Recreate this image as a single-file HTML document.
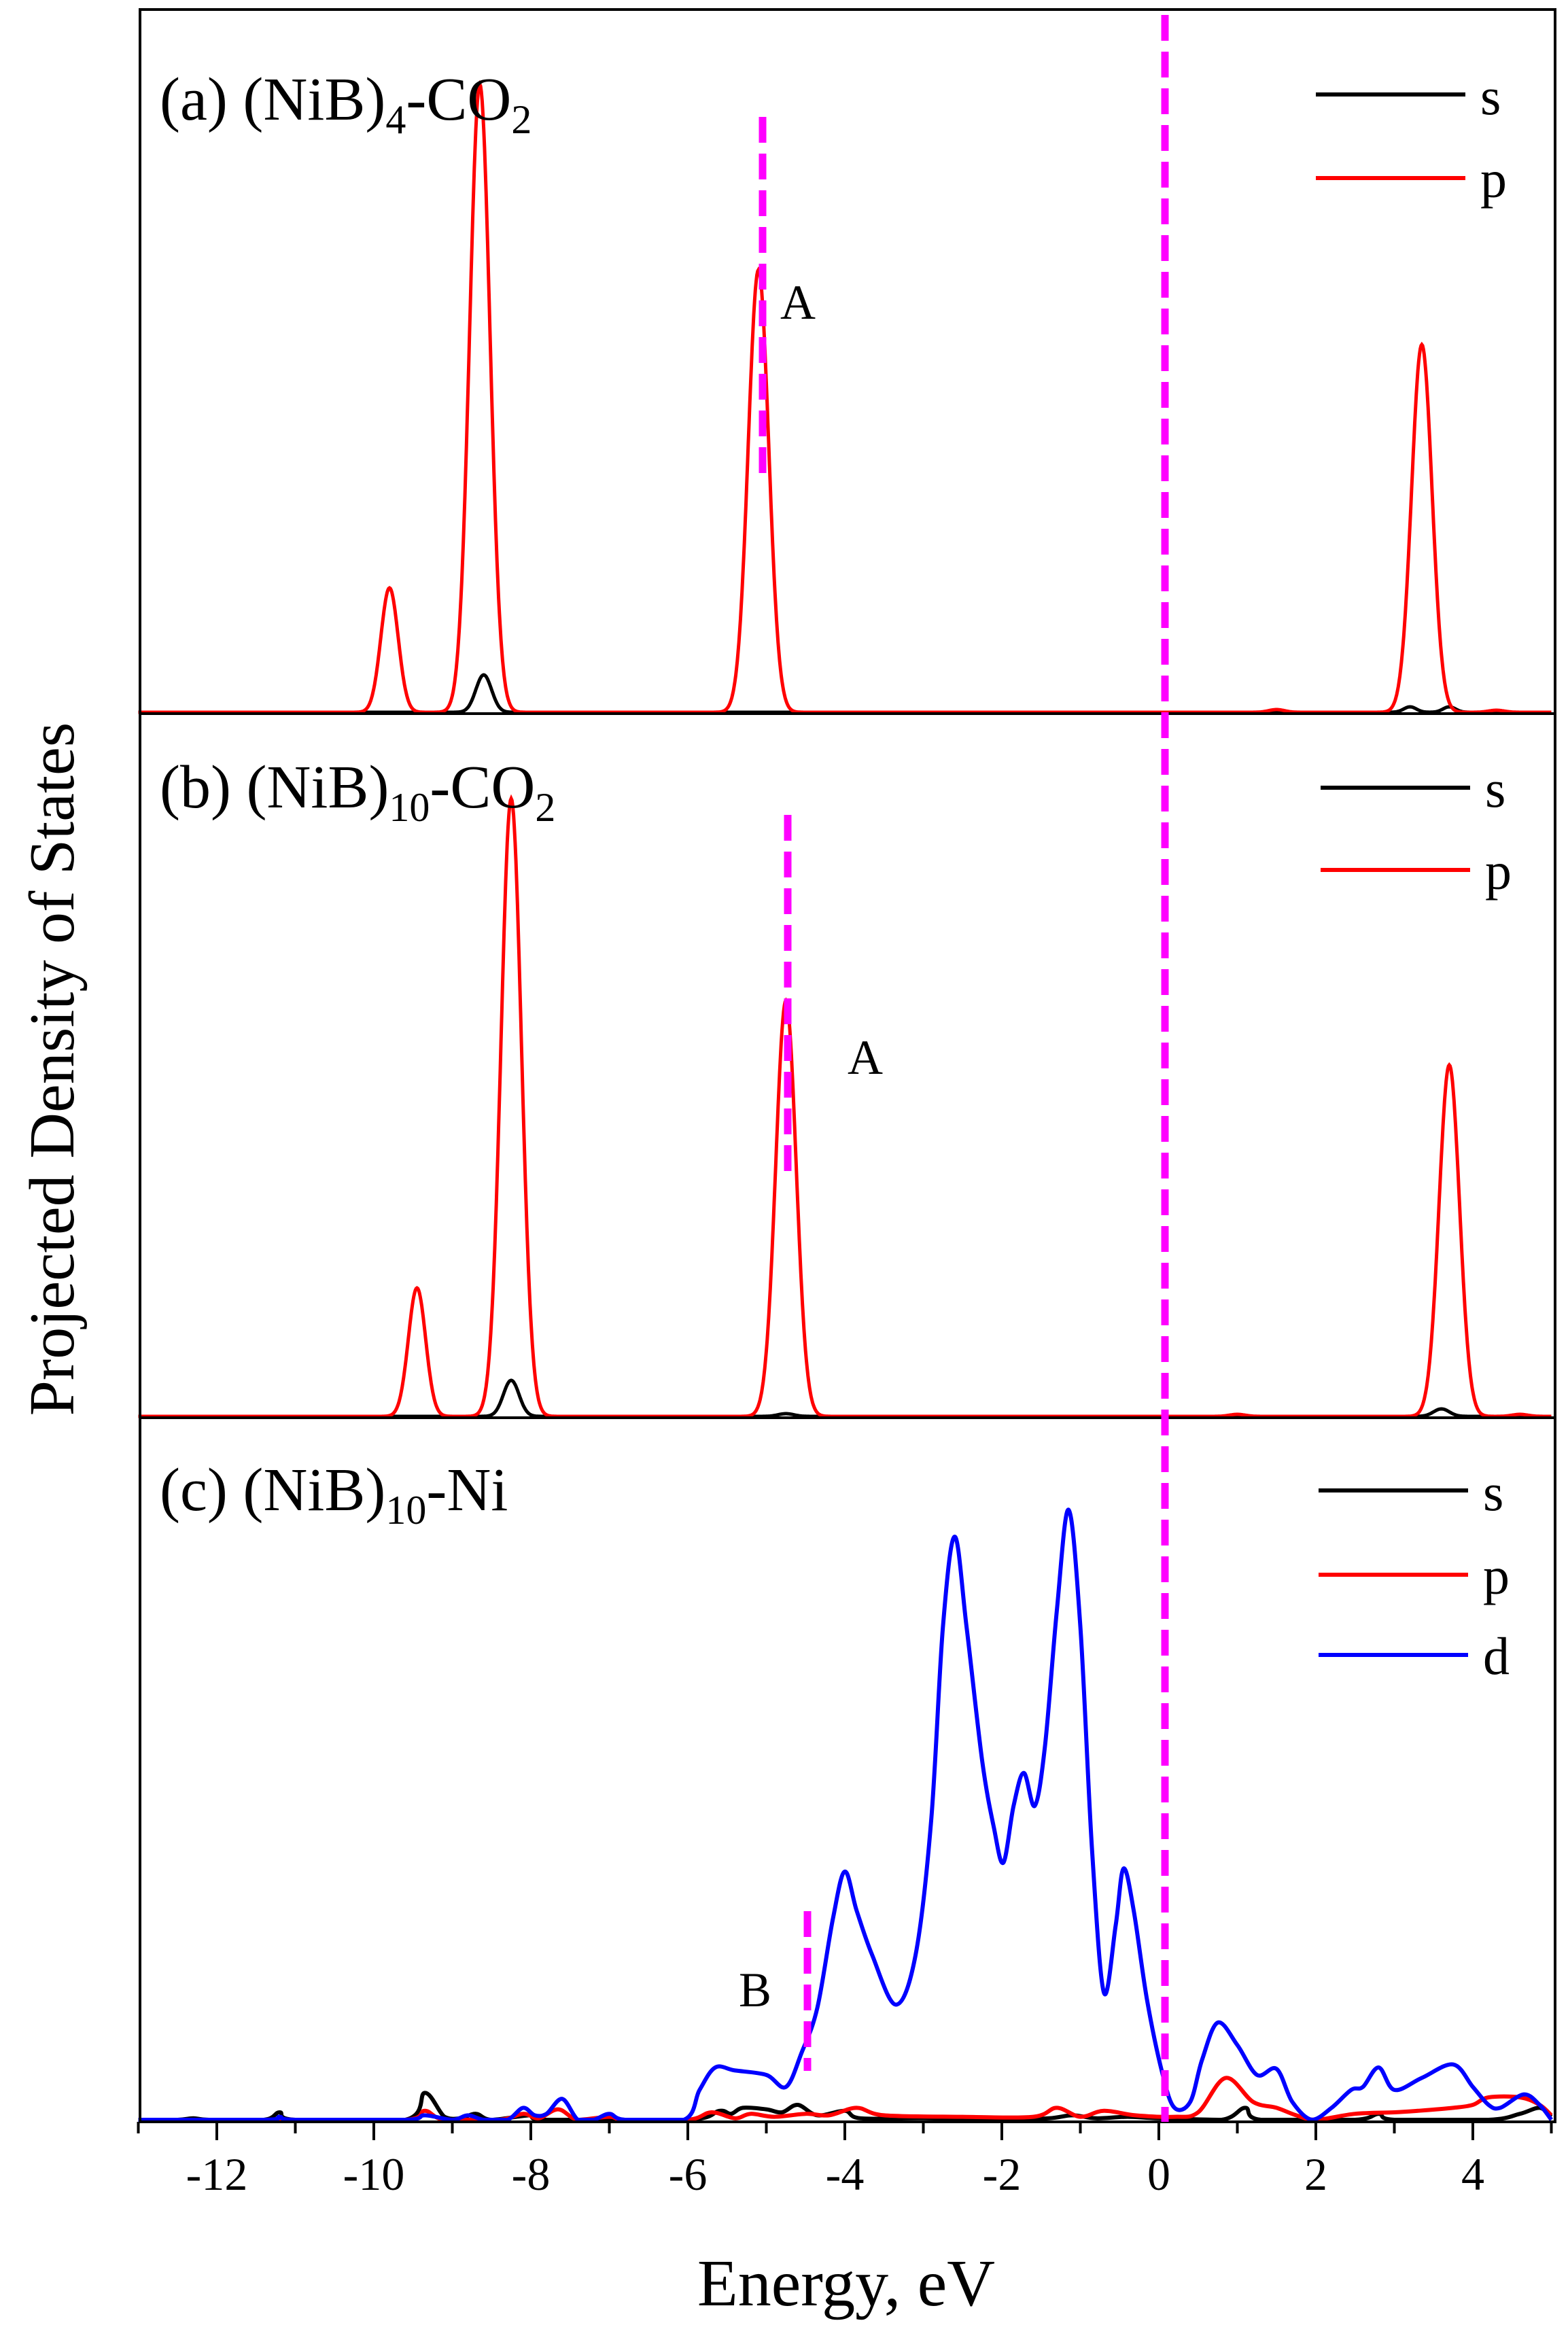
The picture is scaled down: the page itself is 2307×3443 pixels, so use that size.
<!DOCTYPE html>
<html><head><meta charset="utf-8"><style>
html,body{margin:0;padding:0;background:#fff;}
svg{display:block;}
text{font-family:"Liberation Serif",serif;fill:#000;}
</style></head><body>
<svg id="s" width="2307" height="3443" viewBox="0 0 2307 3443" xmlns="http://www.w3.org/2000/svg">
<rect width="2307" height="3443" fill="#fff"/>
<g id="curves"></g>
<g fill="none" stroke="#000" stroke-width="4">
<rect x="206" y="14" width="2082" height="1036"/>
<rect x="206" y="1050" width="2082" height="1036"/>
<rect x="206" y="2086" width="2082" height="1036"/>
</g>
<g id="ticks" stroke="#000" stroke-width="4"></g>
<g stroke="#ff00ff" stroke-width="11" stroke-dasharray="38,16" fill="none">
<line x1="1714" y1="22" x2="1714" y2="3122"/>
<line x1="1122" y1="172" x2="1122" y2="712"/>
<line x1="1159" y1="1199" x2="1159" y2="1738"/>
<line x1="1188" y1="2812" x2="1188" y2="3047"/>
</g>
<text x="235" y="176" font-size="90">(a) (NiB)<tspan font-size="60" dy="20">4</tspan><tspan dy="-20">-CO</tspan><tspan font-size="60" dy="20">2</tspan></text>
<text x="235" y="1188" font-size="90">(b) (NiB)<tspan font-size="60" dy="20">10</tspan><tspan dy="-20">-CO</tspan><tspan font-size="60" dy="20">2</tspan></text>
<text x="235" y="2222" font-size="90">(c) (NiB)<tspan font-size="60" dy="20">10</tspan><tspan dy="-20">-Ni</tspan></text>
<text x="1148" y="469" font-size="72">A</text>
<text x="1247" y="1580" font-size="72">A</text>
<text x="1087" y="2952" font-size="72">B</text>
<g stroke-width="6">
<line x1="1936" y1="139" x2="2156" y2="139" stroke="#000"/>
<line x1="1936" y1="262" x2="2156" y2="262" stroke="#f00"/>
<line x1="1943" y1="1159" x2="2163" y2="1159" stroke="#000"/>
<line x1="1943" y1="1280" x2="2163" y2="1280" stroke="#f00"/>
<line x1="1940" y1="2193" x2="2160" y2="2193" stroke="#000"/>
<line x1="1940" y1="2317" x2="2160" y2="2317" stroke="#f00"/>
<line x1="1940" y1="2435" x2="2160" y2="2435" stroke="#00f"/>
</g>
<g font-size="78">
<text x="2178" y="168">s</text><text x="2178" y="290">p</text>
<text x="2185" y="1187">s</text><text x="2185" y="1308">p</text>
<text x="2182" y="2222">s</text><text x="2182" y="2345">p</text><text x="2182" y="2463">d</text>
</g>
<g id="tl" font-size="68" text-anchor="middle"></g>
<text x="1245" y="3392" font-size="98" text-anchor="middle">Energy, eV</text>
<text transform="translate(108,1573) rotate(-90)" font-size="94" text-anchor="middle">Projected Density of States</text>
</svg>
<script>
var NS="http://www.w3.org/2000/svg";
function X(e){return 1705+115.5*e;}
function add(parent,tag,attrs){var el=document.createElementNS(NS,tag);for(var k in attrs)el.setAttribute(k,attrs[k]);document.getElementById(parent).appendChild(el);return el;}
for(var e=-13;e<=5;e++){var maj=(e%2===0);var x=X(e);
 add("ticks","line",{x1:x,y1:3122,x2:x,y2:3122+(maj?27:17)});
 if(maj){var t=add("tl","text",{x:x,y:3222});t.textContent=(e<0?"-":"")+Math.abs(e);}
}
function gaussPath(base,peaks){var d="";for(var e=-13;e<=5.0001;e+=0.01){var y=0;peaks.forEach(function(p){y+=p[1]*Math.exp(-Math.pow(e-p[0],2)/(2*p[2]*p[2]));});d+=(d?"L":"M")+X(e).toFixed(1)+","+(base-y).toFixed(1);}return d;}
add("curves","path",{d:gaussPath(1048,[[-8.6,55,0.1],[3.2,8,0.08],[3.7,8,0.08]]),stroke:"#000","stroke-width":5,fill:"none"});
add("curves","path",{d:gaussPath(1048,[[-9.8,183,0.11],[-8.65,924,0.13],[-5.1,651,0.13],[3.35,541,0.13],[1.5,4,0.1],[4.3,3,0.1]]),stroke:"#f00","stroke-width":5,fill:"none"});
add("curves","path",{d:gaussPath(2084,[[-8.25,53,0.1],[-4.75,4,0.1],[3.6,11,0.1]]),stroke:"#000","stroke-width":5,fill:"none"});
add("curves","path",{d:gaussPath(2084,[[-9.45,189,0.11],[-8.25,909,0.13],[-4.75,612,0.13],[3.7,517,0.13],[1.0,3,0.1],[4.6,3,0.1]]),stroke:"#f00","stroke-width":5,fill:"none"});
function cr(pts,base){var P=pts.map(function(p){return [X(p[0]),base-p[1]*2.2];});var d="M"+P[0][0]+","+P[0][1];
 for(var i=0;i<P.length-1;i++){var p0=P[Math.max(0,i-1)],p1=P[i],p2=P[i+1],p3=P[Math.min(P.length-1,i+2)];
 var c1=[p1[0]+(p2[0]-p0[0])/6,p1[1]+(p2[1]-p0[1])/6],c2=[p2[0]-(p3[0]-p1[0])/6,p2[1]-(p3[1]-p1[1])/6];
 c1[1]=Math.min(c1[1],base);c2[1]=Math.min(c2[1],base);
 d+="C"+c1[0].toFixed(1)+","+c1[1].toFixed(1)+" "+c2[0].toFixed(1)+","+c2[1].toFixed(1)+" "+p2[0].toFixed(1)+","+p2[1].toFixed(1);}return d;}
var B=3119;
var blk=[[-13,0],[-12.5,0],[-12.3,1],[-12.1,0],[-11.4,0],[-11.2,5],[-11,0],[-9.6,0],[-9.35,18],[-9.1,2],[-8.9,1],[-8.7,4],[-8.5,0],[-8.0,3],[-7.8,0],[-6,0],[-5.6,6],[-5.45,4],[-5.3,8],[-5.0,7],[-4.8,5],[-4.6,10],[-4.35,3],[-4.0,6],[-3.8,1],[-3,1],[-2,0],[-1.4,1],[-1.1,3],[-0.8,1],[-0.4,2],[0,1],[0.8,0],[1.1,8],[1.3,0],[2.5,0],[2.8,4],[3.0,0],[4.2,0],[4.6,4],[4.85,8],[5,2]];
var red=[[-13,0],[-11.4,0],[-11.2,1],[-11,0],[-9.6,0],[-9.35,6],[-9.1,0],[-8.4,0],[-8.1,4],[-7.9,1],[-7.65,7],[-7.4,0],[-7.0,2],[-6.8,0],[-6,0],[-5.7,5],[-5.4,1],[-5.2,4],[-4.9,2],[-4.5,4],[-4.2,3],[-3.85,8],[-3.5,3],[-2.5,2],[-1.6,2],[-1.3,8],[-1.0,2],[-0.7,6],[-0.3,3],[0.2,2],[0.5,5],[0.85,28],[1.2,12],[1.5,8],[1.75,3],[2,0],[2.5,4],[3.0,5],[3.3,6],[3.75,8],[4.0,10],[4.2,15],[4.6,15],[4.85,10],[5,3]];
var blu=[[-13,0],[-11.4,0],[-11.2,2],[-11,0],[-9.6,0],[-9.35,3],[-9,0],[-8.8,3],[-8.6,0],[-8.3,0],[-8.1,8],[-7.95,3],[-7.8,4],[-7.6,14],[-7.4,0],[-7.2,0],[-7,4],[-6.8,0],[-6.05,0],[-5.85,20],[-5.65,35],[-5.4,33],[-5.0,30],[-4.75,22],[-4.55,45],[-4.35,75],[-4.15,135],[-4.0,166],[-3.85,140],[-3.65,110],[-3.35,77],[-3.1,110],[-2.9,200],[-2.75,330],[-2.6,390],[-2.45,330],[-2.25,240],[-2.1,195],[-1.98,172],[-1.85,210],[-1.72,232],[-1.58,210],[-1.45,250],[-1.3,340],[-1.15,408],[-1.0,330],[-0.85,180],[-0.7,85],[-0.55,130],[-0.45,168],[-0.32,140],[-0.15,80],[0.05,30],[0.2,8],[0.4,12],[0.55,40],[0.75,65],[1.0,50],[1.25,30],[1.5,34],[1.7,12],[1.95,0],[2.2,8],[2.45,20],[2.6,22],[2.8,35],[3.0,20],[3.35,28],[3.75,37],[4.0,22],[4.2,10],[4.35,8],[4.65,17],[4.85,10],[5,0]];
add("curves","path",{d:cr(blk,B),stroke:"#000","stroke-width":6,fill:"none","stroke-linejoin":"round"});
add("curves","path",{d:cr(red,B),stroke:"#f00","stroke-width":6,fill:"none","stroke-linejoin":"round"});
add("curves","path",{d:cr(blu,B),stroke:"#00f","stroke-width":6,fill:"none","stroke-linejoin":"round"});
</script>
</body></html>
